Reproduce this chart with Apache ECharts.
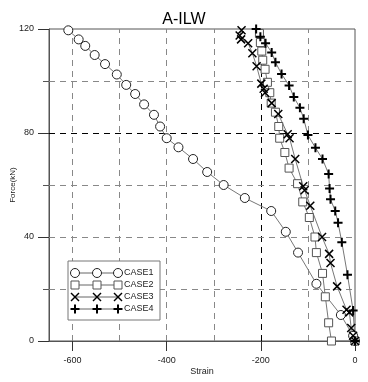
<!DOCTYPE html>
<html><head><meta charset="utf-8">
<script src="https://cdn.jsdelivr.net/npm/echarts@6/dist/echarts.min.js"></script>
<style>html,body{margin:0;padding:0;background:#fff}#c{width:368px;height:382px}</style>
</head><body><div id="c"></div>
<script>
var seriesNames = ['CASE1','CASE2','CASE3','CASE4'];
var case1 = [[0,0],[-4,2],[-30,10],[-82,22],[-121,34],[-147,42],[-178,50],[-234,55],[-279,60],[-314,65],[-344,70],[-375,74.5],[-400,78],[-414,82.5],[-427,87],[-448,91],[-467,95],[-486,98.5],[-506,102.5],[-531,106.5],[-553,110],[-573,113.5],[-587,116],[-609,119.5]];
var case2 = [[0,0],[-50,0],[-56,7],[-63,17],[-69,26],[-82,34],[-85,40],[-97,47.5],[-111,53.5],[-122,60.5],[-140,66.5],[-149,72.5],[-160,78],[-162,82.5],[-169,88],[-178,91.5],[-181,95.5],[-186,99.5],[-191,104.5],[-196,108],[-198,111.5],[-201,114.8],[-203,118.3]];
var case3 = [[0,0],[-4,2],[-8,5],[-12,11],[-18,12],[-38,21],[-52,30],[-55,33.5],[-70,40],[-95,52],[-107,58],[-110,59.5],[-127,70],[-139,78],[-143,79.5],[-163,87.3],[-177,91.5],[-191,95.5],[-194,97],[-199,99],[-209,105.7],[-218,110.7],[-227,114.5],[-242,116],[-245,117.5],[-241,119.5]];
var case4 = [[0,0],[-4,11.7],[-16,25.5],[-28,38],[-36,45.5],[-42,50],[-52,54.5],[-54,58.7],[-56,64.2],[-69,70],[-84,74.3],[-100,79.2],[-109,85.5],[-117,89.7],[-130,93.8],[-140,98.3],[-156,102.7],[-169,107.2],[-177,111],[-190,114.5],[-201,117],[-210,120]];
var xTicks = [-600,-400,-200,0];
var xGrid = [-600,-500,-400,-300,-200,-100];
var yGrid = [20,40,60,80,100];

var FONT = '"Liberation Sans", Arial, sans-serif';
var xPath = 'path://M0,0L10,10M10,0L0,10';
var pPath = 'path://M5,0L5,10M0,5L10,5';

var chart = echarts.init(document.getElementById('c'), null, {renderer:'canvas'});

function mk(name, data, symbol, size, border, bw, extra){
  var s = {
    name: name, type: 'line', data: data, symbol: symbol, symbolSize: size,
    showAllSymbol: true, animation: false,
    lineStyle: {color: '#777', width: 1},
    itemStyle: {color: symbol==='circle'||symbol==='rect' ? '#fff' : 'none', borderColor: border, borderWidth: bw},
    emphasis: {disabled: true}, z: 3
  };
  if (extra) Object.assign(s, extra);
  return s;
}

var gridLines = [];
xGrid.forEach(function(v){ gridLines.push({xAxis: v, lineStyle: {color: v===-200 ? '#000' : '#888', type: [6,5], width: 1}}); });
yGrid.forEach(function(v){ gridLines.push({yAxis: v, lineStyle: {color: v===80 ? '#000' : '#888', type: [6,5], width: 1}}); });

var series = [
  mk('CASE1', case1, 'circle', 9, '#222', 1, {markLine: {silent: true, symbol: ['none','none'], label: {show: false}, data: gridLines, z: 1, animation: false}}),
  mk('CASE2', case2, 'rect', 8, '#555', 1),
  mk('CASE3', case3, xPath, 8, '#000', 1.5),
  mk('CASE4', case4, pPath, 9, '#000', 2)
];

var lg = [];
var bx = 68, by = 261, bw = 92, bh = 59;
lg.push({type: 'rect', shape: {x: bx, y: by, width: bw, height: bh}, style: {fill: '#fff', stroke: '#777', lineWidth: 1}, z: 10});
var rowsY = [273, 285, 297, 309];
for (var i = 0; i < 4; i++) {
  var y = rowsY[i];
  lg.push({type: 'line', shape: {x1: 75, y1: y, x2: 118, y2: y}, style: {stroke: '#666', lineWidth: 1}, z: 11});
  [75, 97, 118].forEach(function(x){
    if (i === 0) lg.push({type: 'circle', shape: {cx: x, cy: y, r: 4.5}, style: {fill: '#fff', stroke: '#222', lineWidth: 1}, z: 12});
    else if (i === 1) lg.push({type: 'rect', shape: {x: x-4, y: y-4, width: 8, height: 8}, style: {fill: '#fff', stroke: '#555', lineWidth: 1}, z: 12});
    else if (i === 2) lg.push({type: 'group', z: 12, children: [
      {type: 'line', shape: {x1: x-4, y1: y-4, x2: x+4, y2: y+4}, style: {stroke: '#000', lineWidth: 1.5}, z: 12},
      {type: 'line', shape: {x1: x+4, y1: y-4, x2: x-4, y2: y+4}, style: {stroke: '#000', lineWidth: 1.5}, z: 12}]});
    else lg.push({type: 'group', z: 12, children: [
      {type: 'line', shape: {x1: x, y1: y-4.5, x2: x, y2: y+4.5}, style: {stroke: '#000', lineWidth: 2}, z: 12},
      {type: 'line', shape: {x1: x-4.5, y1: y, x2: x+4.5, y2: y}, style: {stroke: '#000', lineWidth: 2}, z: 12}]});
  });
  lg.push({type: 'text', x: 124, y: y, style: {text: seriesNames[i], fill: '#222', font: '9px ' + FONT, textVerticalAlign: 'middle'}, z: 12});
}

chart.setOption({
  animation: false,
  backgroundColor: '#fff',
  title: {text: 'A-ILW', left: 'center', top: 7, textStyle: {fontFamily: FONT, fontSize: 16, fontWeight: 'normal', color: '#000'}},
  grid: {left: 49, right: 13, top: 29, bottom: 41, containLabel: false, outerBoundsMode: 'none', show: true, borderColor: '#555', borderWidth: 1, backgroundColor: 'transparent'},
  xAxis: {
    type: 'value', min: -650, max: 0,
    name: 'Strain', nameLocation: 'middle', nameGap: 26, nameMoveOverlap: false,
    nameTextStyle: {fontFamily: FONT, fontSize: 9, color: '#222'},
    axisLine: {show: true, onZero: false, lineStyle: {color: '#555'}},
    axisTick: {show: true, inside: false, length: 10, customValues: xTicks, lineStyle: {color: '#333'}},
    axisLabel: {customValues: xTicks, margin: 15, fontFamily: FONT, fontSize: 9, color: '#222'},
    splitLine: {show: false}
  },
  yAxis: {
    type: 'value', min: 0, max: 120, interval: 40,
    name: 'Force(kN)', nameLocation: 'middle', nameGap: 32, nameMoveOverlap: false,
    nameTextStyle: {fontFamily: FONT, fontSize: 8, color: '#222'},
    axisLine: {show: true, onZero: false, lineStyle: {color: '#555'}},
    axisTick: {show: true, inside: false, length: 11, lineStyle: {color: '#333'}},
    minorTick: {show: true, splitNumber: 2, length: 6, lineStyle: {color: '#555'}},
    axisLabel: {margin: 15, fontFamily: FONT, fontSize: 9, color: '#222'},
    splitLine: {show: false}
  },
  legend: {show: false},
  graphic: lg,
  series: series
});
</script></body></html>
